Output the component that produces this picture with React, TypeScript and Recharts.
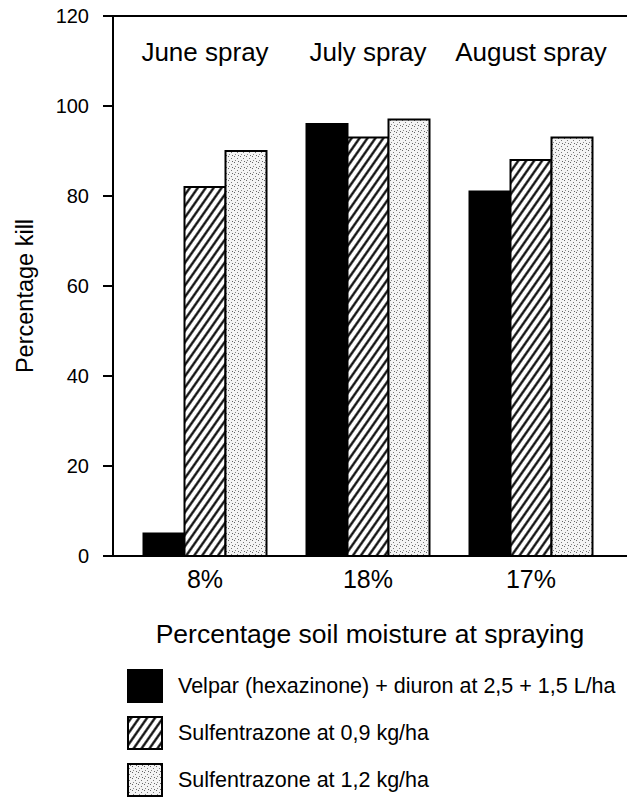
import { BarChart, Bar, XAxis, YAxis, Legend, LabelList, ReferenceLine } from 'recharts'

const moisture = ['8%', '18%', '17%']
const sprays = ['June spray', 'July spray', 'August spray']
const velpar = [5, 96, 81]
const sulf09 = [82, 93, 88]
const sulf12 = [90, 97, 93]
const yTicks = [0, 20, 40, 60, 80, 100, 120]

const series = [
  { key: 'velpar', name: 'Velpar (hexazinone) + diuron at 2,5 + 1,5 L/ha', fill: '#000' },
  { key: 'sulf09', name: 'Sulfentrazone at 0,9 kg/ha', fill: 'url(#hatch)' },
  { key: 'sulf12', name: 'Sulfentrazone at 1,2 kg/ha', fill: 'url(#dots)' },
]

const data = moisture.map((m, i) => ({
  moisture: m,
  spray: sprays[i],
  velpar: velpar[i],
  sulf09: sulf09[i],
  sulf12: sulf12[i],
}))

const SANS = "'Liberation Sans', Arial, sans-serif"
const axisStyle = { stroke: '#000', strokeWidth: 2 }
const xPad = { left: 10.5, right: 14.5 }

// spray month heading, centred over the middle bar of each group
function Heading(props: any) {
  const { x, width, value } = props
  return (
    <text x={x + width / 2} y={61} textAnchor="middle" fontSize={26} fontFamily={SANS} fill="#000">
      {value}
    </text>
  )
}

function YTitle(props: any) {
  const { viewBox } = props
  const cx = viewBox.x + 12
  const cy = viewBox.y + viewBox.height / 2 + 10
  return (
    <text
      transform={`translate(${cx}, ${cy}) rotate(-90)`}
      textAnchor="middle"
      dominantBaseline="central"
      fontSize={23.5}
      fontFamily={SANS}
      fill="#000"
    >
      Percentage kill
    </text>
  )
}

function LegendBox() {
  return (
    <svg width={627} height={140} style={{ display: 'block' }}>
      {series.map((s, i) => (
        <g key={s.key} transform={`translate(0, ${i * 47})`}>
          <rect x={128} y={10} width={34} height={32} fill={s.fill} stroke="#000" strokeWidth={2} />
          <text x={178} y={33} fontSize={21.5} fontFamily={SANS} fill="#000">
            {s.name}
          </text>
        </g>
      ))}
    </svg>
  )
}

export default function App() {
  return (
    <div style={{ position: 'absolute', left: 0, top: 0, background: '#fff' }}>
      <BarChart
        width={627}
        height={797}
        data={data}
        margin={{ top: 16, right: 0, bottom: 141, left: 13 }}
        barCategoryGap={20}
        barGap={0}
      >
        <defs>
          <pattern id="hatch" patternUnits="userSpaceOnUse" width={6.5} height={6.5} patternTransform="rotate(35)">
            <rect width={6.5} height={6.5} fill="#fff" />
            <line x1={3.25} y1={0} x2={3.25} y2={6.5} stroke="#000" strokeWidth={2.2} />
          </pattern>
          <pattern id="dots" patternUnits="userSpaceOnUse" width={6} height={6}>
            <rect width={6} height={6} fill="#f4f4f4" />
            <rect x={0} y={0} width={1} height={1} fill="#666" />
            <rect x={3} y={2} width={1} height={1} fill="#777" />
            <rect x={1} y={4} width={1} height={1} fill="#888" />
            <rect x={4} y={5} width={1} height={1} fill="#666" />
          </pattern>
        </defs>
        <XAxis
          dataKey="moisture"
          height={100}
          tickLine={false}
          tickSize={0}
          tickMargin={14}
          axisLine={axisStyle}
          padding={xPad}
          tick={{ fill: '#000', fontSize: 25, fontFamily: SANS }}
          label={{
            value: 'Percentage soil moisture at spraying',
            position: 'insideBottom',
            offset: 13,
            fill: '#000',
            fontSize: 26.5,
            fontFamily: SANS,
          }}
        />
        <YAxis
          domain={[0, 120]}
          ticks={yTicks}
          interval={0}
          width={100}
          tickSize={10}
          tickMargin={14}
          axisLine={axisStyle}
          tickLine={axisStyle}
          tick={{ fill: '#000', fontSize: 20, fontFamily: SANS }}
          label={{ content: <YTitle /> }}
        />
        <ReferenceLine y={120} stroke="#000" strokeWidth={2} />
        {series.map((s) => (
          <Bar
            key={s.key}
            dataKey={s.key}
            name={s.name}
            fill={s.fill}
            stroke="#000"
            strokeWidth={2}
            isAnimationActive={false}
          >
            {s.key === 'sulf09' && <LabelList dataKey="spray" content={<Heading />} />}
          </Bar>
        ))}
        <Legend
          layout="horizontal"
          verticalAlign="middle"
          align="center"
          content={<LegendBox />}
          wrapperStyle={{ top: 660, left: 0, width: 627, height: 140 }}
        />
      </BarChart>
    </div>
  )
}
